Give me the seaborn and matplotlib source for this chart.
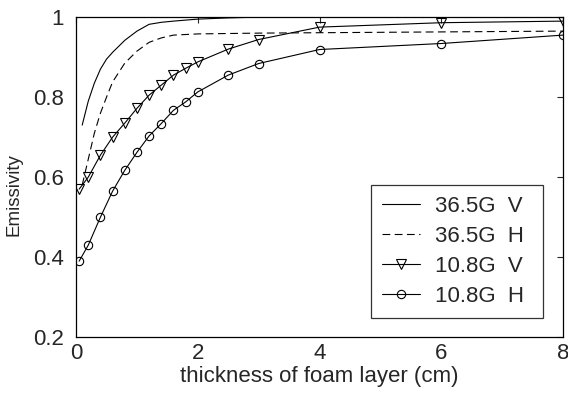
import matplotlib
matplotlib.use("Agg")
import matplotlib.pyplot as plt
import seaborn as sns
import pandas as pd

# 36.5 GHz curves (no markers)
x_365 = [0.1, 0.2, 0.3, 0.4, 0.5, 0.6, 0.8, 1.0, 1.2, 1.4, 1.6, 2.0, 2.5, 3.0, 4.0, 6.0, 8.0]
v_365 = [0.73, 0.79, 0.835, 0.87, 0.895, 0.912, 0.942, 0.965, 0.982, 0.987, 0.99, 0.995, 0.998, 1.0, 1.0, 1.0, 1.0]
h_365 = [0.58, 0.645, 0.71, 0.76, 0.80, 0.838, 0.885, 0.915, 0.937, 0.948, 0.955, 0.958, 0.959, 0.96, 0.961, 0.963, 0.965]

# 10.8 GHz curves (with markers)
x_108 = [0.05, 0.2, 0.4, 0.6, 0.8, 1.0, 1.2, 1.4, 1.6, 1.8, 2.0, 2.5, 3.0, 4.0, 6.0, 8.0]
v_108 = [0.57, 0.60, 0.655, 0.70, 0.735, 0.772, 0.805, 0.83, 0.855, 0.872, 0.888, 0.92, 0.944, 0.975, 0.986, 0.99]
h_108 = [0.39, 0.43, 0.50, 0.565, 0.617, 0.662, 0.703, 0.734, 0.767, 0.788, 0.813, 0.855, 0.884, 0.919, 0.934, 0.955]

labels = ["36.5G  V", "36.5G  H", "10.8G  V", "10.8G  H"]

sns.set_style("white")
plt.rcParams['font.family'] = ['Liberation Sans', 'DejaVu Sans']

fig, ax = plt.subplots(figsize=(5.68, 3.98), dpi=100)

df1 = pd.DataFrame({'x': x_365, 'y': v_365})
df2 = pd.DataFrame({'x': x_365, 'y': h_365})
df3 = pd.DataFrame({'x': x_108, 'y': v_108})
df4 = pd.DataFrame({'x': x_108, 'y': h_108})

sns.lineplot(data=df1, x='x', y='y', ax=ax, color='black', lw=0.8, label=labels[0])
sns.lineplot(data=df2, x='x', y='y', ax=ax, color='black', lw=0.8, linestyle=(0, (7, 4)), label=labels[1])
sns.lineplot(data=df3, x='x', y='y', ax=ax, color='black', lw=0.8, marker='v', markersize=7,
             markerfacecolor='none', markeredgecolor='black', markeredgewidth=0.8, label=labels[2])
sns.lineplot(data=df4, x='x', y='y', ax=ax, color='black', lw=0.8, marker='o', markersize=6,
             markerfacecolor='none', markeredgecolor='black', markeredgewidth=0.8, label=labels[3])

ax.set_xlim(0, 8)
ax.set_ylim(0.2, 1)
ax.set_xticks([0, 2, 4, 6, 8])
ax.set_yticks([0.2, 0.4, 0.6, 0.8, 1.0])
ax.set_yticklabels(['0.2', '0.4', '0.6', '0.8', '1'])
ax.tick_params(direction='in', length=4, width=0.8, top=True, right=True, labelsize=16)
ax.tick_params(axis='x', pad=4)
ax.tick_params(axis='y', pad=9)
for s in ax.spines.values():
    s.set_color('black')
    s.set_linewidth(0.9)

ax.set_xlabel("thickness of foam layer (cm)", fontsize=16, labelpad=2)
ax.set_ylabel("Emissivity", fontsize=13.5)
ax.yaxis.set_label_coords(-0.110, 0.445)

leg = ax.legend(loc='lower left', bbox_to_anchor=(0.605, 0.059, 0.354, 0.416), mode='expand',
                fontsize=16, frameon=True, fancybox=False, edgecolor='black',
                handlelength=1.7, borderpad=0.5, labelspacing=0.41, handletextpad=0.7,
                borderaxespad=0)
leg.get_frame().set_linewidth(0.9)

fig.subplots_adjust(left=0.134, right=0.991, top=0.957, bottom=0.153)
fig.savefig("out.png", dpi=100)
